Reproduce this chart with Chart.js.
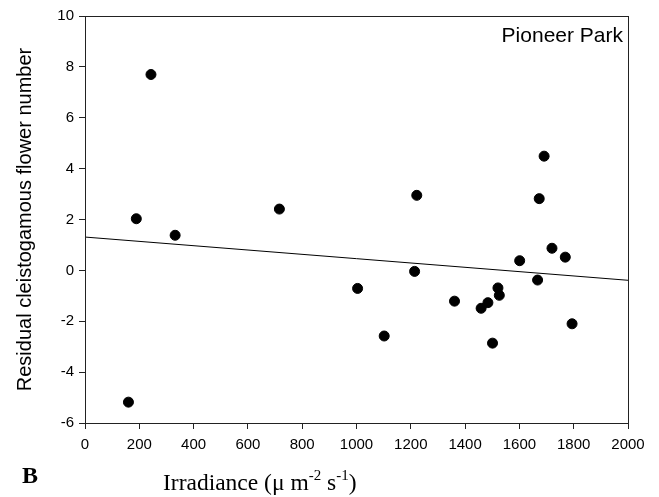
<!DOCTYPE html>
<html>
<head>
<meta charset="utf-8">
<script src="https://cdn.jsdelivr.net/npm/chart.js@4"></script>
<style>
  html, body { margin: 0; padding: 0; background: #fff; }
  #wrap { width: 659px; height: 497px; position: relative; }
</style>
</head>
<body>
<div id="wrap"><canvas id="scatterChart"></canvas></div>
<script>
// irradiance vs residual flower number
const irradiance = [160, 189, 243, 332, 716, 1004, 1102, 1214, 1222, 1361, 1459, 1484,
  1501, 1521, 1526, 1601, 1667, 1673, 1691, 1720, 1769, 1794];
const residual = [-5.18, 2.03, 7.70, 1.38, 2.41, -0.71, -2.58, -0.04, 2.95, -1.21, -1.49, -1.27,
  -2.86, -0.69, -0.98, 0.38, -0.38, 2.82, 4.49, 0.87, 0.52, -2.10];

// fitted regression line ends
const fitX = [0, 2000];
const fitY = [1.31, -0.39];

const xTicks = [0, 200, 400, 600, 800, 1000, 1200, 1400, 1600, 1800, 2000];
const yTicks = [-6, -4, -2, 0, 2, 4, 6, 8, 10];

const axisColor = '#222';
const sans = '"Liberation Sans", Arial, sans-serif';
const serif = '"Liberation Serif", "Times New Roman", serif';

// frame, panel label and x title with superscripts
const extras = {
  id: 'extras',
  afterDraw(chart) {
    const ctx = chart.ctx;
    const a = chart.chartArea;
    ctx.save();
    ctx.strokeStyle = axisColor;
    ctx.lineWidth = 1;
    ctx.strokeRect(a.left + 0.5, a.top + 0.5, a.right - a.left, a.bottom - a.top);

    ctx.fillStyle = '#000';
    ctx.textBaseline = 'alphabetic';
    ctx.textAlign = 'right';
    ctx.font = '21px ' + sans;
    ctx.fillText('Pioneer Park', a.right - 5, a.top + 26);

    ctx.textAlign = 'left';
    ctx.font = 'bold 24px ' + serif;
    ctx.fillText('B', 22, 483);

    let x = 163;
    const base = 490;
    const parts = [
      ['Irradiance (\u03bc m', 0],
      ['-2', 1],
      [' s', 0],
      ['-1', 1],
      [')', 0]
    ];
    parts.forEach(p => {
      ctx.font = (p[1] ? '15px ' : '23.5px ') + serif;
      ctx.fillText(p[0], x, p[1] ? base - 10 : base);
      x += ctx.measureText(p[0]).width;
    });
    ctx.restore();
  }
};

const ctx = document.getElementById('scatterChart').getContext('2d');
const scatterChart = new Chart(ctx, {
  type: 'scatter',
  data: {
    datasets: [
      {
        label: 'Residual',
        data: irradiance.map((v, i) => ({ x: v, y: residual[i] })),
        backgroundColor: '#000',
        borderColor: '#000',
        pointRadius: 5,
        pointHoverRadius: 5
      },
      {
        type: 'line',
        label: 'Fit',
        data: fitX.map((v, i) => ({ x: v, y: fitY[i] })),
        borderColor: '#000',
        borderWidth: 1,
        pointRadius: 0,
        fill: false
      }
    ]
  },
  options: {
    responsive: true,
    maintainAspectRatio: false,
    animation: false,
    layout: {
      padding: { left: 0, right: 31, top: 16, bottom: 0 }
    },
    scales: {
      x: {
        type: 'linear',
        min: 0,
        max: 2000,
        afterBuildTicks: s => { s.ticks = xTicks.map(v => ({ value: v })); },
        afterFit: s => { s.height = 74; },
        grid: {
          drawOnChartArea: false,
          drawTicks: true,
          tickLength: 6,
          color: axisColor
        },
        border: { display: true, color: axisColor, width: 1 },
        ticks: {
          color: '#000',
          padding: 7,
          maxRotation: 0,
          font: { family: sans, size: 15 },
          callback: v => String(v)
        },
        title: { display: false }
      },
      y: {
        type: 'linear',
        min: -6,
        max: 10,
        afterBuildTicks: s => { s.ticks = yTicks.map(v => ({ value: v })); },
        afterFit: s => { s.width = 85; },
        grid: {
          drawOnChartArea: false,
          drawTicks: true,
          tickLength: 6,
          color: axisColor
        },
        border: { display: true, color: axisColor, width: 1 },
        ticks: {
          color: '#000',
          padding: 5,
          font: { family: sans, size: 15 },
          callback: v => String(v)
        },
        title: {
          display: true,
          text: 'Residual cleistogamous flower number',
          color: '#000',
          font: { family: sans, size: 20 },
          padding: { top: 13, bottom: 0 }
        }
      }
    },
    plugins: {
      legend: { display: false },
      tooltip: { enabled: false }
    }
  },
  plugins: [extras]
});
</script>
</body>
</html>
